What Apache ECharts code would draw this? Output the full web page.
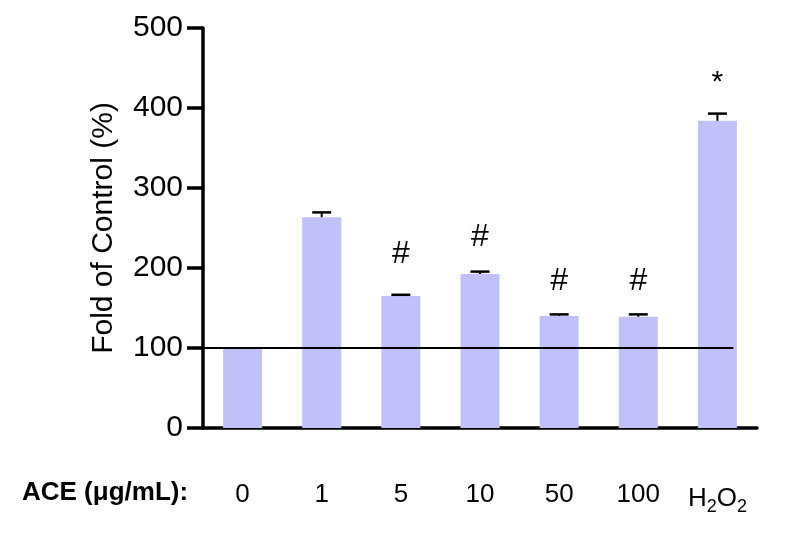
<!DOCTYPE html>
<html><head><meta charset="utf-8">
<script src="https://cdn.jsdelivr.net/npm/echarts@6/dist/echarts.min.js"></script>
<style>html,body{margin:0;padding:0;background:#fff}#c{width:795px;height:537px}</style>
</head><body><div id="c"></div>
<script>
const categories = ['0', '1', '5', '10', '50', '100', 'H2O2'];
const means = [100, 263.5, 165, 192.5, 140, 139, 384];
const errors = [0, 6, 1.5, 3, 2, 3, 9];
const marks = ['', '', '#', '#', '#', '#', '*'];
const markLevels = [null, null, 217, 239, 183, 183, 432];
const yTicks = [0, 100, 200, 300, 400, 500];
const controlLevel = 100;
const controlLineSpan = [-0.5, 6.2];
const xTitle = 'ACE (\u03bcg/mL):';
const yTitle = 'Fold of Control (%)';

const FONT = '"Liberation Sans", Arial, Helvetica, sans-serif';
const chart = echarts.init(document.getElementById('c'), null, {renderer: 'canvas'});

const errData = categories.map((c, i) => [i, means[i], errors[i]]);

chart.setOption({
  animation: false,
  backgroundColor: '#ffffff',
  grid: {left: 203, right: 38, top: 28, bottom: 109, containLabel: false},
  xAxis: [{
    type: 'category',
    data: categories,
    axisLine: {onZero: false, lineStyle: {color: '#000', width: 3.5}},
    axisTick: {alignWithLabel: true, interval: 0, length: 17, lineStyle: {color: '#000', width: 3.5}},
    axisLabel: {
      interval: 0, hideOverlap: false,
      margin: 54, color: '#000', fontSize: 26, fontFamily: FONT,
      formatter: v => v === 'H2O2' ? 'H{sub|2}O{sub|2}' : v,
      rich: {sub: {fontSize: 18, fontFamily: FONT, color: '#000', padding: [16, 0, 0, 0]}}
    },
    splitLine: {show: false}
  }, {
    type: 'value', min: -0.5, max: categories.length - 0.5, show: false
  }],
  yAxis: {
    type: 'value', min: yTicks[0], max: yTicks[yTicks.length - 1], interval: yTicks[1] - yTicks[0],
    name: yTitle, nameLocation: 'middle', nameGap: 84, nameRotate: 90,
    nameTextStyle: {color: '#000', fontSize: 30, fontFamily: FONT},
    axisLine: {show: true, onZero: false, lineStyle: {color: '#000', width: 3.5}},
    axisTick: {show: true, length: 16, lineStyle: {color: '#000', width: 3.5}},
    axisLabel: {margin: 20, color: '#000', fontSize: 30, fontFamily: FONT},
    splitLine: {show: false}
  },
  graphic: [{
    type: 'text', left: 22, top: 480,
    style: {text: xTitle, fontSize: 26, fontWeight: 'bold', fontFamily: FONT, fill: '#000'}
  }],
  series: [{
    type: 'bar', data: means, barWidth: 39, xAxisIndex: 0,
    itemStyle: {color: '#c1c1fa'}, z: 2
  }, {
    type: 'line', xAxisIndex: 1, data: [[controlLineSpan[0], controlLevel], [controlLineSpan[1], controlLevel]],
    symbol: 'none', lineStyle: {color: '#000', width: 2}, z: 5, silent: true
  }, {
    type: 'custom', xAxisIndex: 0, data: errData, z: 6,
    renderItem: (params, api) => {
      const i = api.value(0);
      const top = api.coord([i, api.value(1) + api.value(2)]);
      const base = api.coord([i, api.value(1)]);
      const children = [];
      if (api.value(2) > 0) {
        children.push({type: 'line', shape: {x1: base[0], y1: base[1], x2: top[0], y2: top[1]}, style: {stroke: '#000', lineWidth: 2}});
        children.push({type: 'line', shape: {x1: top[0] - 9.5, y1: top[1], x2: top[0] + 9.5, y2: top[1]}, style: {stroke: '#000', lineWidth: 2.5}});
      }
      const m = marks[i];
      if (m) {
        const p = api.coord([i, markLevels[i]]);
        children.push({type: 'text', x: p[0], y: p[1], style: {text: m, fontSize: m === '#' ? 32 : 30, fontFamily: FONT, fill: '#000', align: 'center', verticalAlign: 'middle'}});
      }
      return {type: 'group', children};
    }
  }]
});
</script></body></html>
